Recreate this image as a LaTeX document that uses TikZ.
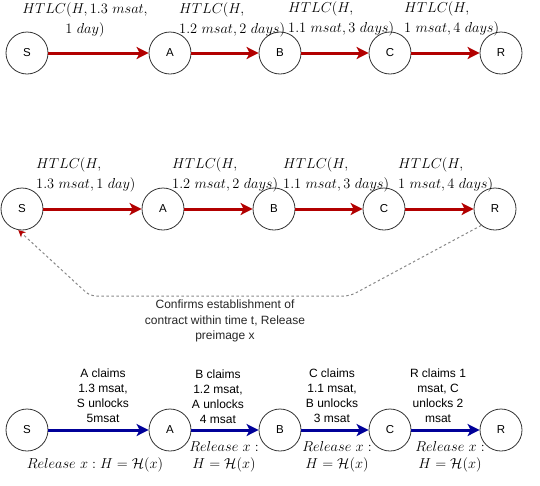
\documentclass[tikz,border=0pt]{standalone}
\usepackage{amsmath}
\usepackage{fontspec}
\setsansfont{Liberation Sans}
\usetikzlibrary{arrows.meta}
\definecolor{lockred}{HTML}{B20000}
\definecolor{settleblue}{HTML}{000099}
\definecolor{peerink}{HTML}{333333}
\definecolor{noteink}{HTML}{888888}
\tikzset{
  peer/.style={draw=peerink, circle, minimum size=42pt, inner sep=0pt, thick,
    font=\sffamily\fontsize{11.5}{13}\selectfont},
  htlc/.style={align=left, anchor=west, inner sep=0pt,
    font=\fontsize{13.5}{19.5}\selectfont},
  claim/.style={align=center, inner sep=0pt,
    font=\sffamily\fontsize{12}{15}\selectfont},
  release/.style={align=center, inner sep=0pt,
    font=\fontsize{13.5}{17}\selectfont},
  note/.style={align=center, inner sep=0pt, text=black!85,
    font=\sffamily\fontsize{12}{15.5}\selectfont},
  lock/.style={-{Stealth[length=12pt, width=12pt, inset=3pt]}, line width=3pt, lockred},
  settle/.style={-{Stealth[length=12pt, width=12pt, inset=3pt]}, line width=3pt, settleblue},
  confirm/.style={-{Stealth[length=7pt, width=7pt, inset=2pt, lockred]}, noteink,
    dash pattern=on 2.5pt off 2.5pt, line width=1pt, rounded corners=6pt},
}
\begin{document}
\begin{tikzpicture}[x=1pt, y=-1pt]
\useasboundingbox (0,0) rectangle (540,485);

% ---- offer: HTLCs along the route ------------------------------------
\node[peer] (s1) at (27,53) {S};
\node[peer] (a1) at (170,53) {A};
\node[peer] (b1) at (280,53) {B};
\node[peer] (c1) at (390,53) {C};
\node[peer] (r1) at (501,53) {R};
\draw[lock] (s1) -- (a1);
\draw[lock] (a1) -- (b1);
\draw[lock] (b1) -- (c1);
\draw[lock] (c1) -- (r1);
\node[htlc, align=center, anchor=center] (h1sa) at (85,20)
  {$HTLC(H, 1.3\ msat,$\\$1\ day)$};
\node[htlc] (h1ab) at (179,20) {$HTLC(H,$\\$1.2\ msat, 2\ days)$};
\node[htlc] (h1bc) at (288,19) {$HTLC(H,$\\$1.1\ msat, 3\ days)$};
\node[htlc] (h1cr) at (404,19) {$HTLC(H,$\\$1\ msat, 4\ days)$};

% ---- confirmation back to the sender ---------------------------------
\node[peer] (s2) at (22,209) {S};
\node[peer] (a2) at (163,209) {A};
\node[peer] (b2) at (274,209) {B};
\node[peer] (c2) at (384,209) {C};
\node[peer] (r2) at (495,209) {R};
\draw[lock] (s2) -- (a2);
\draw[lock] (a2) -- (b2);
\draw[lock] (b2) -- (c2);
\draw[lock] (c2) -- (r2);
\node[htlc] (h2sa) at (36,175) {$HTLC(H,$\\$1.3\ msat, 1\ day)$};
\node[htlc] (h2ab) at (172,175) {$HTLC(H,$\\$1.2\ msat, 2\ days)$};
\node[htlc] (h2bc) at (283,175) {$HTLC(H,$\\$1.1\ msat, 3\ days)$};
\node[htlc] (h2cr) at (398,175) {$HTLC(H,$\\$1\ msat, 4\ days)$};
\coordinate (bendr) at (350,296);
\coordinate (bendl) at (90,296);
\draw[confirm] (r2.-130) -- (bendr) -- (bendl) -- (s2.-100);
\node[note] (confirmtxt) at (225,321)
  {Confirms establishment of\\contract within time t, Release\\preimage x};

% ---- settlement: preimage released hop by hop ------------------------
\node[peer] (s3) at (27,430) {S};
\node[peer] (a3) at (170,430) {A};
\node[peer] (b3) at (280,430) {B};
\node[peer] (c3) at (390,430) {C};
\node[peer] (r3) at (501,430) {R};
\draw[settle] (s3) -- (a3);
\draw[settle] (a3) -- (b3);
\draw[settle] (b3) -- (c3);
\draw[settle] (c3) -- (r3);
\node[claim] (csa) at (103,396) {A claims\\1.3 msat,\\S unlocks\\5msat};
\node[claim] (cab) at (218,397) {B claims\\1.2 msat,\\A unlocks\\4 msat};
\node[claim] (cbc) at (332,396) {C claims\\1.1 msat,\\B unlocks\\3 msat};
\node[claim] (ccr) at (438,396) {R claims 1\\msat, C\\unlocks 2\\msat};
\node[release] (rsa) at (95,465) {$Release\ x : H = \mathcal{H}(x)$};
\node[release] (rab) at (224,457) {$Release\ x :$\\$H = \mathcal{H}(x)$};
\node[release] (rbc) at (337,457) {$Release\ x :$\\$H = \mathcal{H}(x)$};
\node[release] (rcr) at (450,457) {$Release\ x :$\\$H = \mathcal{H}(x)$};

\end{tikzpicture}
\end{document}
